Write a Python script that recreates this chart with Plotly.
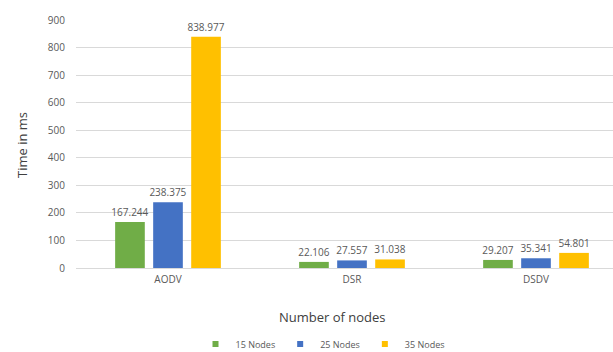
import plotly.graph_objects as go

categories = ["AODV", "DSR", "DSDV"]
series_names = ["15 Nodes", "25 Nodes", "35 Nodes"]
nodes15 = [167.244, 22.106, 29.207]
nodes25 = [238.375, 27.557, 35.341]
nodes35 = [838.977, 31.038, 54.801]
colors = ["#70AD47", "#4472C4", "#FFC000"]
y_ticks = [0, 100, 200, 300, 400, 500, 600, 700, 800, 900]

W, H = 613, 352
L, R, T, B = 76, 0, 20, 84

fig = go.Figure()
for name, vals, c in zip(series_names, [nodes15, nodes25, nodes35], colors):
    fig.add_trace(go.Bar(
        x=categories, y=vals, name=name, marker_color=c, marker_line_width=0,
        text=[f"{v:.3f}" for v in vals], textposition="outside",
        constraintext="none", showlegend=False,
        textfont=dict(size=10, color="#595959"), cliponaxis=False,
    ))
for name, c in zip(series_names, colors):
    fig.add_trace(go.Scatter(
        x=[None], y=[None], mode="markers", name=name,
        marker=dict(symbol="square", size=6, color=c),
    ))

fig.update_layout(
    width=W, height=H, margin=dict(l=L, r=R, t=T, b=B, autoexpand=False),
    paper_bgcolor="white", plot_bgcolor="white",
    font=dict(family="Open Sans, DejaVu Sans, sans-serif", color="#595959", size=10),
    barmode="group", bargap=0.38, bargroupgap=0.22,
    showlegend=True,
    legend=dict(orientation="h", xref="container", yref="container",
                x=323 / W, xanchor="center",
                y=1 - 344 / H, yanchor="middle",
                font=dict(size=9, color="#595959"), itemwidth=30,
                traceorder="normal"),
    xaxis=dict(range=[-0.5, -0.5 + (W - L) / 184.0], showgrid=False,
               showline=False, ticks="", ticklabelstandoff=4,
               tickfont=dict(size=10, color="#595959")),
    yaxis=dict(range=[0, 900], tickvals=y_ticks, showgrid=True, gridcolor="#D9D9D9",
               gridwidth=1, zeroline=True, zerolinecolor="#D9D9D9", zerolinewidth=1,
               ticks="", ticklabelstandoff=10,
               tickfont=dict(size=10, color="#595959")),
    annotations=[
        dict(text="Number of nodes", xref="paper", yref="paper",
             x=(332 - L) / (W - L), y=-(317 - (H - B)) / (H - T - B),
             xanchor="center", yanchor="middle", showarrow=False,
             font=dict(size=13, color="#404040")),
        dict(text="Time in ms", xref="paper", yref="paper",
             x=-(L - 22) / (W - L), y=(268 - 145) / (H - T - B),
             xanchor="center", yanchor="middle", textangle=-90, showarrow=False,
             font=dict(size=13, color="#404040")),
    ],
)

fig.write_html("out.html")
